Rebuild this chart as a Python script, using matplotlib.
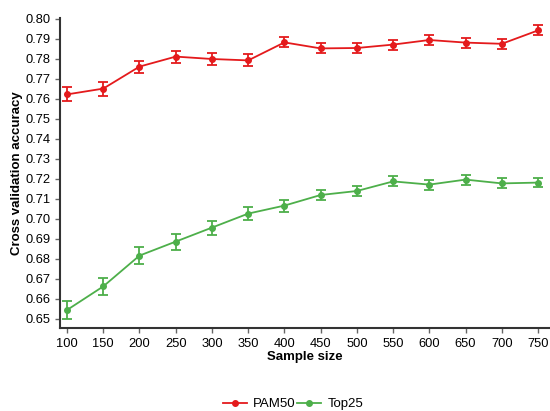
import matplotlib
matplotlib.use("Agg")
import matplotlib.pyplot as plt
from matplotlib.lines import Line2D
import numpy as np

plt.rcParams['font.family'] = ['Liberation Sans', 'DejaVu Sans']

sample_size = [100, 150, 200, 250, 300, 350, 400, 450, 500, 550, 600, 650, 700, 750]
pam50 = [0.7623, 0.7652, 0.7762, 0.7812, 0.7800, 0.7793, 0.7883, 0.7853, 0.7855, 0.7872, 0.7895, 0.7882, 0.7876, 0.7943]
pam50_err = [0.0035, 0.0035, 0.0030, 0.0030, 0.0030, 0.0030, 0.0025, 0.0025, 0.0025, 0.0025, 0.0025, 0.0025, 0.0025, 0.0025]
top25 = [0.6545, 0.6663, 0.6817, 0.6887, 0.6957, 0.7027, 0.7067, 0.7120, 0.7140, 0.7188, 0.7172, 0.7197, 0.7178, 0.7182]
top25_err = [0.0045, 0.0042, 0.0042, 0.0040, 0.0035, 0.0033, 0.0030, 0.0027, 0.0025, 0.0025, 0.0025, 0.0025, 0.0025, 0.0022]
yticks = [0.65, 0.66, 0.67, 0.68, 0.69, 0.70, 0.71, 0.72, 0.73, 0.74, 0.75, 0.76, 0.77, 0.78, 0.79, 0.80]
series_names = ['PAM50', 'Top25']

red = '#e41a1c'
green = '#4daf4a'

fig = plt.figure(figsize=(5.5, 4.11), dpi=100)
ax = fig.add_axes([60/550, 1 - 328/411, 490/550, (328-18)/411])

ax.errorbar(sample_size, pam50, yerr=pam50_err, color=red, marker='o', markersize=4,
            linewidth=1.3, capsize=3.5, elinewidth=1.3, capthick=1.3)
ax.errorbar(sample_size, top25, yerr=top25_err, color=green, marker='o', markersize=4,
            linewidth=1.3, capsize=3.5, elinewidth=1.3, capthick=1.3)

ax.set_xlim(90.3, 766.5)
ax.set_ylim(0.6455, 0.8005)
ax.set_xticks(sample_size)
ax.set_yticks(yticks)
ax.set_yticklabels([f"{v:.2f}" for v in yticks])
for s in ['top', 'right']:
    ax.spines[s].set_visible(False)
for s in ['left', 'bottom']:
    ax.spines[s].set_color('#333333')
    ax.spines[s].set_linewidth(1.5)
ax.tick_params(axis='both', colors='#666666', labelcolor='black', labelsize=9.3, length=3.5, width=1)
ax.set_xlabel('Sample size', fontweight='bold', fontsize=9.5, labelpad=1)
ax.set_ylabel('Cross validation accuracy', fontweight='bold', fontsize=9.5)
ax.yaxis.set_label_coords(-0.076, 0.5)

handles = [Line2D([], [], color=red, marker='o', markersize=4, linewidth=1.3),
           Line2D([], [], color=green, marker='o', markersize=4, linewidth=1.3)]
fig.legend(handles, series_names, loc='lower center', bbox_to_anchor=(0.533, -0.027), ncol=2, frameon=False,
           fontsize=9.5, handlelength=1.8, columnspacing=0.1, handletextpad=0.5)

fig.savefig('out.png', dpi=100)
